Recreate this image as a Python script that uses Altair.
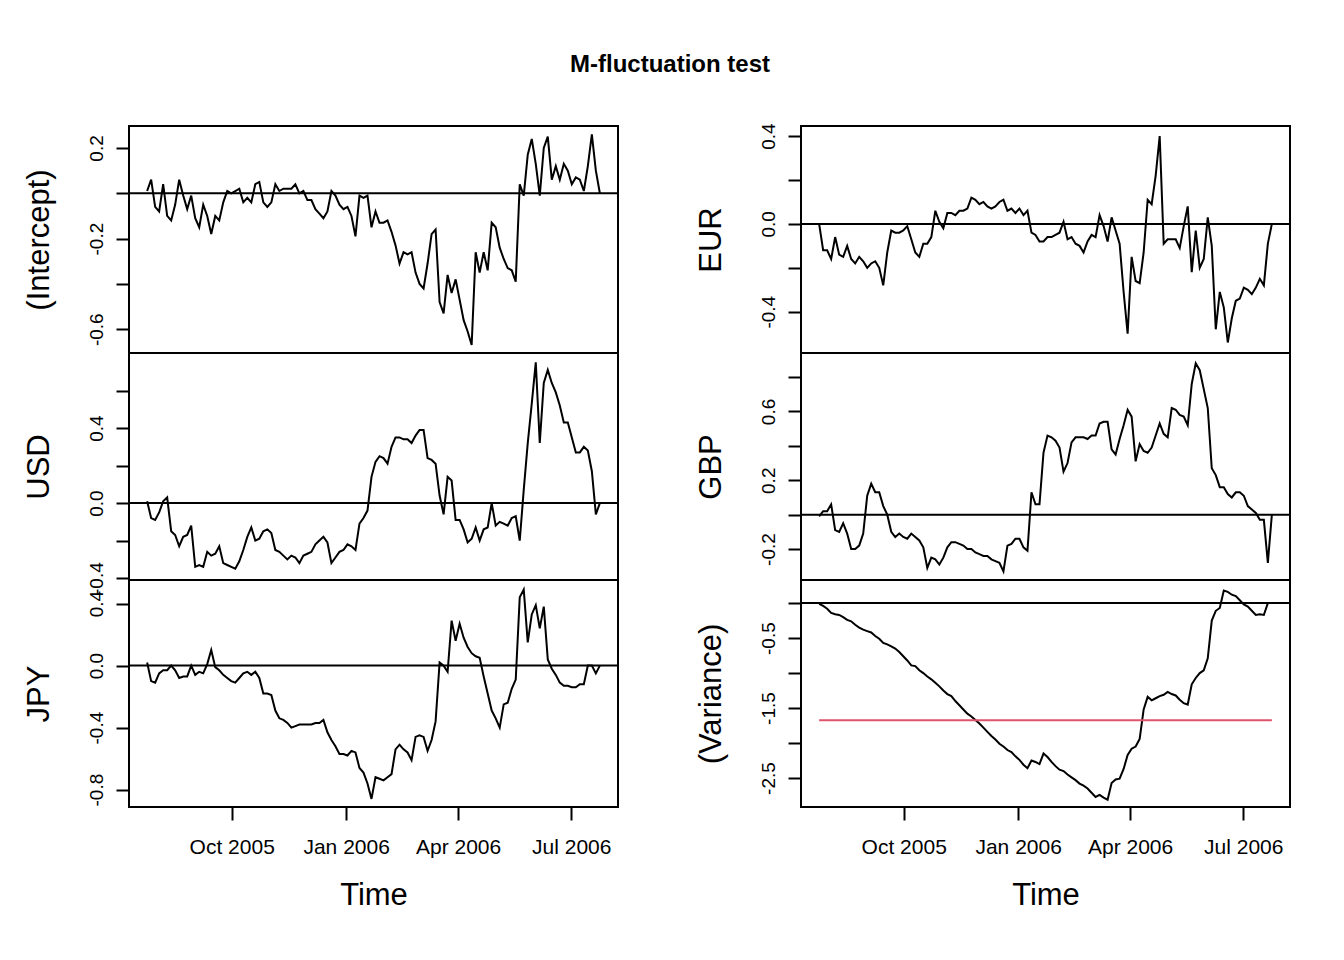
import altair as alt
import pandas as pd

# ---------------- data ----------------
START = "2005-07-25"
END = "2006-07-24"
N_OBS = 114

intercept = [0.01, 0.06, -0.06, -0.08, 0.04, -0.10, -0.12, -0.05, 0.06, -0.01,
             -0.07, -0.01, -0.11, -0.15, -0.05, -0.10, -0.18, -0.10, -0.12, -0.04,
             0.01, 0.00, 0.01, 0.02, -0.04, -0.02, -0.04, 0.04, 0.05, -0.04,
             -0.06, -0.04, 0.04, 0.01, 0.02, 0.02, 0.02, 0.04, 0.00, 0.01,
             -0.03, -0.03, -0.07, -0.09, -0.11, -0.08, 0.01, -0.01, -0.05, -0.07,
             -0.06, -0.10, -0.19, -0.01, -0.02, -0.01, -0.15, -0.08, -0.13, -0.13,
             -0.12, -0.17, -0.23, -0.31, -0.26, -0.27, -0.26, -0.35, -0.40, -0.42,
             -0.31, -0.18, -0.16, -0.48, -0.53, -0.36, -0.44, -0.38, -0.47, -0.56,
             -0.61, -0.67, -0.26, -0.35, -0.26, -0.34, -0.13, -0.15, -0.24, -0.29,
             -0.33, -0.34, -0.39, 0.04, -0.01, 0.17, 0.24, 0.13, -0.01, 0.20,
             0.25, 0.06, 0.12, 0.06, 0.13, 0.10, 0.04, 0.07, 0.06, 0.01,
             0.12, 0.26, 0.10, 0.00]

usd = [0.01, -0.08, -0.09, -0.05, 0.01, 0.03, -0.15, -0.17, -0.23, -0.18,
       -0.17, -0.12, -0.34, -0.33, -0.34, -0.26, -0.28, -0.27, -0.23, -0.32,
       -0.33, -0.34, -0.35, -0.31, -0.25, -0.18, -0.13, -0.20, -0.19, -0.15,
       -0.14, -0.16, -0.25, -0.26, -0.28, -0.30, -0.28, -0.29, -0.32, -0.28,
       -0.27, -0.26, -0.22, -0.20, -0.18, -0.21, -0.32, -0.29, -0.26, -0.25,
       -0.22, -0.23, -0.25, -0.11, -0.08, -0.04, 0.14, 0.22, 0.25, 0.24,
       0.21, 0.30, 0.35, 0.35, 0.34, 0.34, 0.32, 0.36, 0.39, 0.39,
       0.24, 0.23, 0.21, 0.04, -0.06, 0.14, 0.12, -0.09, -0.09, -0.14,
       -0.21, -0.19, -0.13, -0.20, -0.14, -0.13, 0.00, -0.12, -0.10, -0.11,
       -0.12, -0.08, -0.07, -0.20, 0.07, 0.32, 0.53, 0.75, 0.32, 0.64,
       0.71, 0.64, 0.59, 0.52, 0.43, 0.43, 0.35, 0.27, 0.27, 0.30,
       0.28, 0.17, -0.06, 0.00]

jpy = [0.02, -0.10, -0.11, -0.05, -0.03, -0.03, 0.00, -0.03, -0.08, -0.07,
       -0.07, 0.00, -0.06, -0.04, -0.05, 0.01, 0.10, -0.01, -0.03, -0.06,
       -0.08, -0.10, -0.11, -0.08, -0.05, -0.04, -0.06, -0.04, -0.08, -0.18,
       -0.18, -0.19, -0.29, -0.34, -0.35, -0.37, -0.40, -0.39, -0.38, -0.38,
       -0.38, -0.38, -0.37, -0.37, -0.35, -0.43, -0.48, -0.52, -0.57, -0.57,
       -0.58, -0.55, -0.56, -0.66, -0.69, -0.76, -0.86, -0.72, -0.73, -0.74,
       -0.72, -0.70, -0.54, -0.51, -0.54, -0.56, -0.61, -0.46, -0.45, -0.46,
       -0.55, -0.48, -0.36, 0.02, 0.00, -0.04, 0.29, 0.16, 0.27, 0.18,
       0.12, 0.08, 0.06, 0.05, -0.07, -0.18, -0.29, -0.34, -0.40, -0.25,
       -0.24, -0.15, -0.09, 0.44, 0.49, 0.15, 0.33, 0.39, 0.24, 0.38,
       0.04, -0.02, -0.06, -0.11, -0.13, -0.13, -0.14, -0.14, -0.12, -0.12,
       0.00, 0.00, -0.05, 0.00]

eur = [0.00, -0.12, -0.12, -0.16, -0.06, -0.14, -0.15, -0.10, -0.16, -0.18,
       -0.15, -0.17, -0.20, -0.18, -0.17, -0.20, -0.28, -0.13, -0.03, -0.04,
       -0.04, -0.03, -0.01, -0.07, -0.13, -0.15, -0.09, -0.09, -0.06, 0.06,
       0.01, -0.02, 0.05, 0.05, 0.04, 0.06, 0.06, 0.07, 0.12, 0.11,
       0.09, 0.10, 0.08, 0.07, 0.08, 0.10, 0.11, 0.06, 0.07, 0.05,
       0.07, 0.04, 0.06, -0.04, -0.05, -0.08, -0.08, -0.06, -0.06, -0.05,
       -0.04, 0.01, -0.07, -0.06, -0.09, -0.10, -0.13, -0.08, -0.05, -0.06,
       0.04, -0.01, -0.08, 0.03, -0.03, -0.09, -0.31, -0.50, -0.15, -0.26,
       -0.27, -0.13, 0.11, 0.09, 0.22, 0.40, -0.09, -0.07, -0.07, -0.07,
       -0.11, -0.01, 0.08, -0.22, -0.03, -0.20, -0.16, 0.03, -0.10, -0.48,
       -0.31, -0.38, -0.54, -0.43, -0.35, -0.34, -0.29, -0.30, -0.32, -0.29,
       -0.25, -0.28, -0.09, 0.00]

gbp = [-0.01, 0.02, 0.02, 0.06, -0.09, -0.10, -0.05, -0.11, -0.20, -0.20,
       -0.18, -0.11, 0.11, 0.18, 0.13, 0.13, 0.05, 0.00, -0.10, -0.13,
       -0.11, -0.13, -0.14, -0.11, -0.13, -0.15, -0.19, -0.31, -0.25, -0.26,
       -0.29, -0.25, -0.19, -0.16, -0.16, -0.17, -0.18, -0.20, -0.20, -0.22,
       -0.23, -0.24, -0.24, -0.26, -0.27, -0.28, -0.33, -0.18, -0.17, -0.14,
       -0.14, -0.19, -0.21, 0.13, 0.06, 0.06, 0.36, 0.46, 0.45, 0.43,
       0.39, 0.25, 0.30, 0.42, 0.45, 0.45, 0.45, 0.44, 0.46, 0.46,
       0.53, 0.54, 0.54, 0.38, 0.35, 0.44, 0.52, 0.61, 0.57, 0.31,
       0.41, 0.37, 0.36, 0.39, 0.46, 0.53, 0.47, 0.45, 0.62, 0.61,
       0.58, 0.57, 0.52, 0.76, 0.88, 0.84, 0.73, 0.62, 0.27, 0.23,
       0.16, 0.16, 0.12, 0.10, 0.13, 0.13, 0.11, 0.05, 0.03, 0.01,
       -0.03, -0.03, -0.28, 0.00]

variance = [-0.01, -0.04, -0.08, -0.14, -0.16, -0.17, -0.20, -0.24, -0.26, -0.31,
            -0.35, -0.38, -0.40, -0.42, -0.47, -0.51, -0.57, -0.59, -0.62, -0.65,
            -0.70, -0.76, -0.82, -0.89, -0.90, -0.96, -1.00, -1.05, -1.09, -1.14,
            -1.19, -1.25, -1.30, -1.33, -1.40, -1.46, -1.52, -1.58, -1.62, -1.67,
            -1.72, -1.78, -1.84, -1.90, -1.95, -2.01, -2.05, -2.10, -2.13, -2.19,
            -2.24, -2.31, -2.36, -2.25, -2.27, -2.30, -2.15, -2.20, -2.27, -2.33,
            -2.38, -2.40, -2.45, -2.49, -2.53, -2.58, -2.61, -2.65, -2.71, -2.77,
            -2.74, -2.78, -2.81, -2.57, -2.52, -2.51, -2.37, -2.17, -2.08, -2.05,
            -1.94, -1.52, -1.34, -1.39, -1.36, -1.33, -1.31, -1.27, -1.30, -1.32,
            -1.38, -1.43, -1.45, -1.16, -1.07, -1.00, -0.96, -0.79, -0.25, -0.11,
            -0.07, 0.18, 0.16, 0.12, 0.10, 0.04, -0.02, -0.05, -0.11, -0.17,
            -0.16, -0.17, 0.00, 0.00]

variance_boundary = -1.675

# axis tick values and which of them carry labels
intercept_ticks = [-0.6, -0.4, -0.2, 0.0, 0.2]
intercept_labels = [0.2, -0.2, -0.6]
usd_ticks = [-0.4, -0.2, 0.0, 0.2, 0.4, 0.6]
usd_labels = [0.4, 0.0, -0.4]
jpy_ticks = [-0.8, -0.6, -0.4, -0.2, 0.0, 0.2, 0.4]
jpy_labels = [0.4, 0.0, -0.4, -0.8]
eur_ticks = [-0.4, -0.2, 0.0, 0.2, 0.4]
eur_labels = [0.4, 0.0, -0.4]
gbp_ticks = [-0.2, 0.0, 0.2, 0.4, 0.6, 0.8]
gbp_labels = [0.6, 0.2, -0.2]
variance_ticks = [0.0, -0.5, -1.0, -1.5, -2.0, -2.5]
variance_labels = [-0.5, -1.5, -2.5]

# y ranges of the panels
intercept_dom = [-0.705, 0.297]
usd_dom = [-0.41, 0.80]
jpy_dom = [-0.912, 0.552]
eur_dom = [-0.588, 0.446]
gbp_dom = [-0.38, 0.94]
variance_dom = [-2.914, 0.33]

# ---------------- chart ----------------
FONT = "Liberation Sans"
W, H = 489, 227
dates = pd.date_range(START, END, periods=N_OBS)

xdom = [alt.DateTime(year=2005, month=7, date=10, hours=10),
        alt.DateTime(year=2006, month=8, date=7, hours=14)]
xticks = [alt.DateTime(year=2005, month=10, date=1),
          alt.DateTime(year=2006, month=1, date=1),
          alt.DateTime(year=2006, month=4, date=1),
          alt.DateTime(year=2006, month=7, date=1)]


def label_expr(labs):
    arr = "[" + ",".join(repr(float(v)) for v in labs) + "]"
    return ("indexof(" + arr + ", round(datum.value*10)/10) >= 0 ? "
            "(datum.value < -1e-9 ? '-' : '') + format(abs(datum.value), '.1f') : ''")


def panel(name, vals, dom, ticks, labs, bottom, boundary=None):
    df = pd.DataFrame({"date": dates, "value": vals})
    if bottom:
        xaxis = alt.Axis(values=xticks, format="%b %Y", title="Time",
                         labelFontSize=21, labelPadding=27, labelBaseline="middle",
                         labelFlush=False, labelOverlap=False,
                         titleFontSize=31, titleFontWeight="normal",
                         titleX=W / 2, titleY=88, titleBaseline="middle",
                         titleAlign="center", titleAnchor="middle")
    else:
        xaxis = None
    x = alt.X("date:T", scale=alt.Scale(domain=xdom), axis=xaxis)
    yaxis = alt.Axis(values=ticks, labelExpr=label_expr(labs), title=name,
                     labelAngle=270, labelAlign="center", labelBaseline="middle",
                     labelPadding=20, labelFontSize=19, labelOverlap=False,
                     titleFontSize=31, titleFontWeight="normal", titleAngle=270,
                     titleX=-90, titleY=H / 2, titleAlign="center",
                     titleBaseline="middle")
    y = alt.Y("value:Q", scale=alt.Scale(domain=dom, nice=False, zero=False),
              axis=yaxis)
    line = alt.Chart(df).mark_line(color="black", strokeWidth=2).encode(x=x, y=y)
    zero = alt.Chart(pd.DataFrame({"value": [0.0]})).mark_rule(
        color="black", strokeWidth=2).encode(y=alt.Y("value:Q"))
    layers = [zero, line]
    if boundary is not None:
        bdf = pd.DataFrame({"date": [dates[0], dates[-1]],
                            "value": [boundary, boundary]})
        layers.append(alt.Chart(bdf).mark_line(color="#DF536B", strokeWidth=2)
                      .encode(x="date:T", y="value:Q"))
    return alt.layer(*layers).properties(width=W, height=H)


panels = [
    panel("(Intercept)", intercept, intercept_dom, intercept_ticks, intercept_labels, False),
    panel("EUR", eur, eur_dom, eur_ticks, eur_labels, False),
    panel("USD", usd, usd_dom, usd_ticks, usd_labels, False),
    panel("GBP", gbp, gbp_dom, gbp_ticks, gbp_labels, False),
    panel("JPY", jpy, jpy_dom, jpy_ticks, jpy_labels, True),
    panel("(Variance)", variance, variance_dom, variance_ticks, variance_labels, True,
          boundary=variance_boundary),
]

chart = alt.concat(*panels, columns=2, spacing={"row": 0, "column": 183},
                   bounds="flush").properties(
    title=alt.TitleParams("M-fluctuation test", fontSize=24, fontWeight="bold",
                          font=FONT, color="black", anchor="middle", offset=45,
                          dx=13),
    padding={"left": 14, "top": 44, "right": 10, "bottom": 10},
).configure(background="white", font=FONT).configure_view(
    stroke="black", strokeWidth=2
).configure_axis(
    domain=False, grid=False, ticks=True, tickColor="black", tickWidth=2,
    tickSize=13, labelColor="black", titleColor="black",
    labelFont=FONT, titleFont=FONT
)

chart.save("out.html", embed_options={"renderer": "svg", "actions": False})
